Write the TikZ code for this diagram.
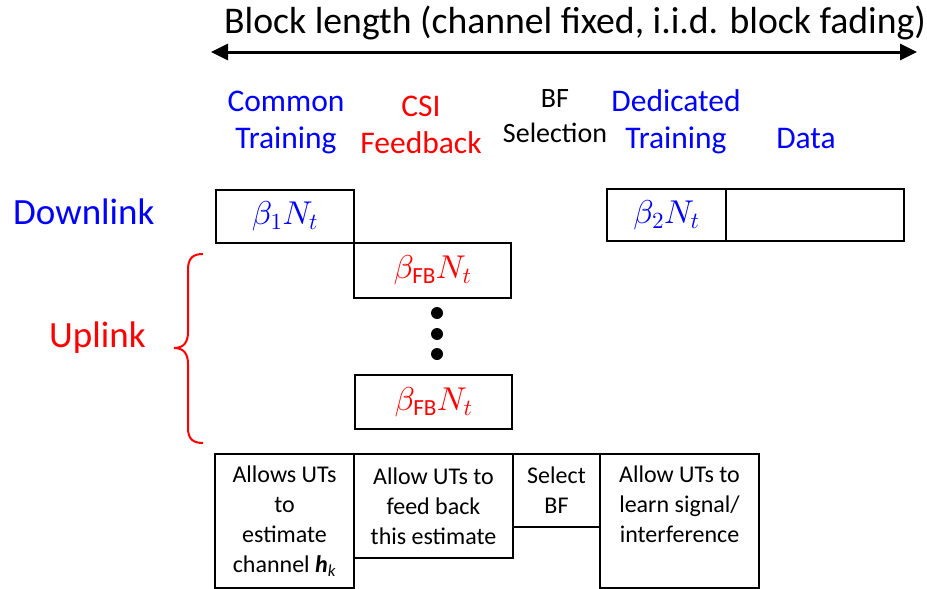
\documentclass[tikz,border=0pt]{standalone}
\usepackage{amsmath}
\usepackage{fontspec}
\setmainfont{Carlito}
% let the Computer Modern math fonts scale freely
\DeclareFontFamily{OML}{cmm}{\skewchar\font127 }
\DeclareFontShape{OML}{cmm}{m}{it}{<->cmmi10}{}
\DeclareFontShape{OT1}{cmr}{m}{n}{<->cmr10}{}
\DeclareFontShape{OMS}{cmsy}{m}{n}{<->cmsy10}{}
\usetikzlibrary{arrows.meta}
\definecolor{dlblue}{RGB}{0,0,255}
\definecolor{ulred}{RGB}{255,0,0}
\tikzset{
  blk/.style={draw, line width=2pt, inner sep=0pt, anchor=north west},
  head/.style={align=center, anchor=base, inner sep=0pt, font=\fontsize{31.5}{37}\selectfont},
  sym/.style={font=\fontsize{33}{38}\selectfont},
  note/.style={align=center, font=\fontsize{24}{30}\selectfont},
  side/.style={anchor=base west, inner sep=0pt, font=\fontsize{37}{44}\selectfont},
  dot/.style={circle, fill=black, inner sep=0pt, minimum size=12pt},
}
\newcommand{\hkvec}{\textbf{\textit{h}}\textsubscript{\textit{k}}}
\begin{document}
\begin{tikzpicture}[x=1pt, y=-1pt]
\useasboundingbox (0,0) rectangle (927,589);

% overall block length
\node[anchor=base west, inner sep=0pt, font=\fontsize{37.7}{45}\selectfont] (title) at (224,33)
  {Block length (channel fixed, i.i.d. block fading)};
\coordinate (aleft) at (211,52);
\coordinate (aright) at (917,52);
\draw[line width=3pt, {Triangle[length=17pt,width=16pt]}-{Triangle[length=17pt,width=16pt]}]
  (aleft) -- (aright);

% phase headings (anchored at the baseline of their last line)
\node[head, text=dlblue] (hcommon) at (286,148) {Common\\Training};
\node[head, text=ulred] (hcsi) at (421,153) {CSI\\Feedback};
\node[head, font=\fontsize{28}{35}\selectfont] (hbf) at (555,142) {BF\\Selection};
\node[head, text=dlblue] (hded) at (676,148) {Dedicated\\Training};
\node[head, text=dlblue] (hdata) at (806,148) {Data};

% link labels
\node[side, text=dlblue] (down) at (13,224) {Downlink};
\node[side, text=ulred] (up) at (49,347) {Uplink};

% downlink slots
\node[blk, minimum width=138pt, minimum height=53pt, sym, text=dlblue] (b1) at (215,189) {$\beta_1N_t$};
\node[blk, minimum width=119pt, minimum height=52pt, sym, text=dlblue] (b2) at (606,188) {$\beta_2N_t$};
\node[blk, minimum width=178pt, minimum height=52pt] (data) at (725,188) {};

% uplink feedback slots
\node[blk, minimum width=157pt, minimum height=55pt, sym, text=ulred] (fb1) at (353,242) {$\beta_{\text{FB}}N_t$};
\node[dot] (d1) at (437,313) {};
\node[dot] (d2) at (437,334) {};
\node[dot] (d3) at (437,354) {};
\node[blk, minimum width=157pt, minimum height=54pt, sym, text=ulred] (fb2) at (354,374) {$\beta_{\text{FB}}N_t$};

% brace grouping the uplink slots
\draw[ulred, line width=2pt]
  (203,254) .. controls (193,254) and (188,258) .. (188,270) -- (188,332)
  .. controls (188,342) and (184,348) .. (174,348)
  .. controls (184,348) and (188,354) .. (188,364) -- (188,428)
  .. controls (188,439) and (193,443) .. (203,443);

% purpose of each phase
\node[blk, minimum width=139pt, minimum height=134pt, note] (p1) at (214,453)
  {Allows UTs\\to\\estimate\\channel \hkvec};
\node[blk, minimum width=159pt, minimum height=104pt, note] (p2) at (353,453)
  {Allow UTs to\\feed back\\this estimate};
\node[blk, minimum width=87pt, minimum height=73pt, note] (p3) at (512,453)
  {Select\\BF};
\node[blk, minimum width=159pt, minimum height=134pt, note] (p4) at (599,453)
  {Allow UTs to\\learn signal/\\interference\\\vphantom{channel \hkvec}};
\end{tikzpicture}
\end{document}
